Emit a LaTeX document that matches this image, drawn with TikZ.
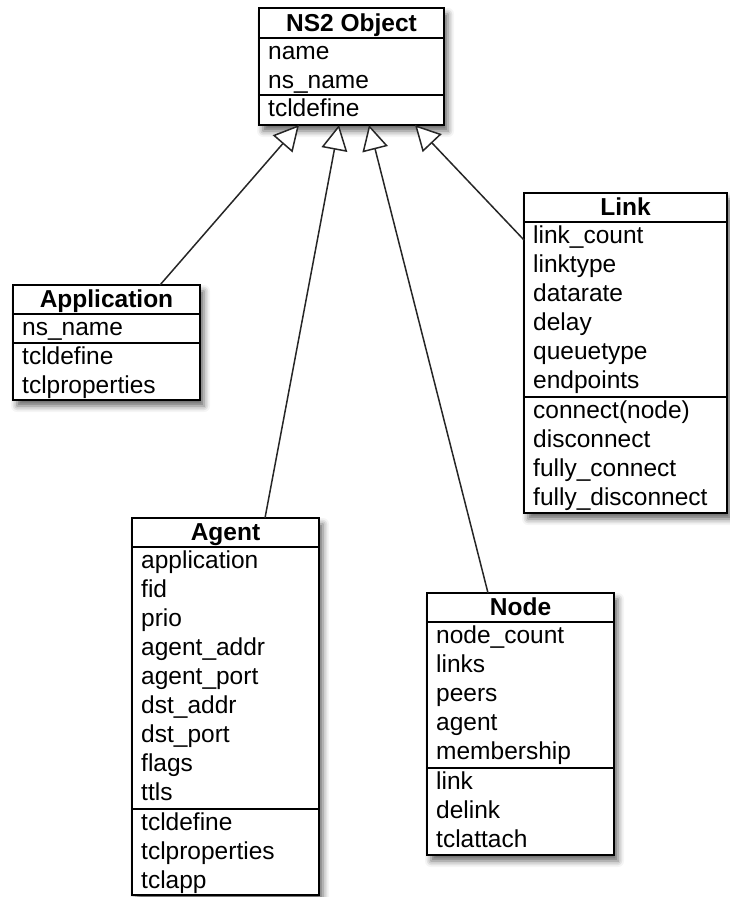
\documentclass[tikz,border=0pt]{standalone}
\usepackage{fontspec}
\setmainfont{Liberation Sans}
\usetikzlibrary{arrows.meta,shadows.blur}
\tikzset{
  classbox/.style={draw=black, line width=1.6pt, fill=white, inner sep=0pt, outer sep=0pt,
    anchor=north west,
    blur shadow={shadow xshift=4pt, shadow yshift=-6pt, shadow blur radius=6pt, shadow opacity=60}},
  head/.style={font=\fontsize{24.5}{29}\selectfont\bfseries, anchor=base, inner sep=0pt},
  members/.style={font=\fontsize{24.5}{29}\selectfont, align=left, anchor=north west, inner sep=0pt},
  divider/.style={line width=1.6pt},
  gen/.style={line width=1.5pt, draw=black!85, -{Triangle[open, fill=white, length=25pt, width=26pt]}}
}
\begin{document}
\begin{tikzpicture}[x=1pt,y=-1pt]
\useasboundingbox (0,0) rectangle (730,897);

% NS2 Object
\node[classbox, minimum width=185pt, minimum height=117pt] (obj) at (259,8) {};
\draw[divider] ([yshift=-30pt]obj.north west) -- ([yshift=-30pt]obj.north east);
\draw[divider] ([yshift=-87pt]obj.north west) -- ([yshift=-87pt]obj.north east);
\node[head] (objh) at ([yshift=-23pt]obj.north) {NS2 Object};
\node[members] (obja) at ([xshift=9pt,yshift=-31pt]obj.north west) {\strut name\\ns\_name};
\node[members] (objo) at ([xshift=9pt,yshift=-88pt]obj.north west) {\strut tcldefine};

% Application
\node[classbox, minimum width=187pt, minimum height=115pt] (app) at (13,285) {};
\draw[divider] ([yshift=-29pt]app.north west) -- ([yshift=-29pt]app.north east);
\draw[divider] ([yshift=-58pt]app.north west) -- ([yshift=-58pt]app.north east);
\node[head] (apph) at ([yshift=-22.5pt]app.north) {Application};
\node[members] (appa) at ([xshift=9pt,yshift=-30pt]app.north west) {\strut ns\_name};
\node[members] (appo) at ([xshift=9pt,yshift=-59pt]app.north west) {\strut tcldefine\\tclproperties};

% Link
\node[classbox, minimum width=203pt, minimum height=320pt] (link) at (524,193) {};
\draw[divider] ([yshift=-29pt]link.north west) -- ([yshift=-29pt]link.north east);
\draw[divider] ([yshift=-204pt]link.north west) -- ([yshift=-204pt]link.north east);
\node[head] (linkh) at ([yshift=-22.5pt]link.north) {Link};
\node[members] (linka) at ([xshift=9pt,yshift=-30pt]link.north west)
  {\strut link\_count\\linktype\\datarate\\delay\\queuetype\\endpoints};
\node[members] (linko) at ([xshift=9pt,yshift=-205pt]link.north west)
  {\strut connect(node)\\disconnect\\fully\_connect\\fully\_disconnect};

% Agent
\node[classbox, minimum width=187pt, minimum height=377pt] (agent) at (132,518) {};
\draw[divider] ([yshift=-29pt]agent.north west) -- ([yshift=-29pt]agent.north east);
\draw[divider] ([yshift=-291pt]agent.north west) -- ([yshift=-291pt]agent.north east);
\node[head] (agenth) at ([yshift=-22.5pt]agent.north) {Agent};
\node[members] (agenta) at ([xshift=9pt,yshift=-30pt]agent.north west)
  {\strut application\\fid\\prio\\agent\_addr\\agent\_port\\dst\_addr\\dst\_port\\flags\\ttls};
\node[members] (agento) at ([xshift=9pt,yshift=-292pt]agent.north west)
  {\strut tcldefine\\tclproperties\\tclapp};

% Node
\node[classbox, minimum width=187pt, minimum height=262pt] (node) at (427,593) {};
\draw[divider] ([yshift=-29pt]node.north west) -- ([yshift=-29pt]node.north east);
\draw[divider] ([yshift=-175pt]node.north west) -- ([yshift=-175pt]node.north east);
\node[head] (nodeh) at ([yshift=-22.5pt]node.north) {Node};
\node[members] (nodea) at ([xshift=9pt,yshift=-30pt]node.north west)
  {\strut node\_count\\links\\peers\\agent\\membership};
\node[members] (nodeo) at ([xshift=9pt,yshift=-176pt]node.north west)
  {\strut link\\delink\\tclattach};

% Generalization connectors
\draw[gen] ([xshift=147pt]app.north west) -- ([xshift=40pt]obj.south west);
\draw[gen] ([xshift=133pt]agent.north west) -- ([xshift=80pt]obj.south west);
\draw[gen] ([xshift=61pt]node.north west) -- ([xshift=110pt]obj.south west);
\draw[gen] ([yshift=-47pt]link.north west) -- ([xshift=156pt]obj.south west);
\end{tikzpicture}
\end{document}
